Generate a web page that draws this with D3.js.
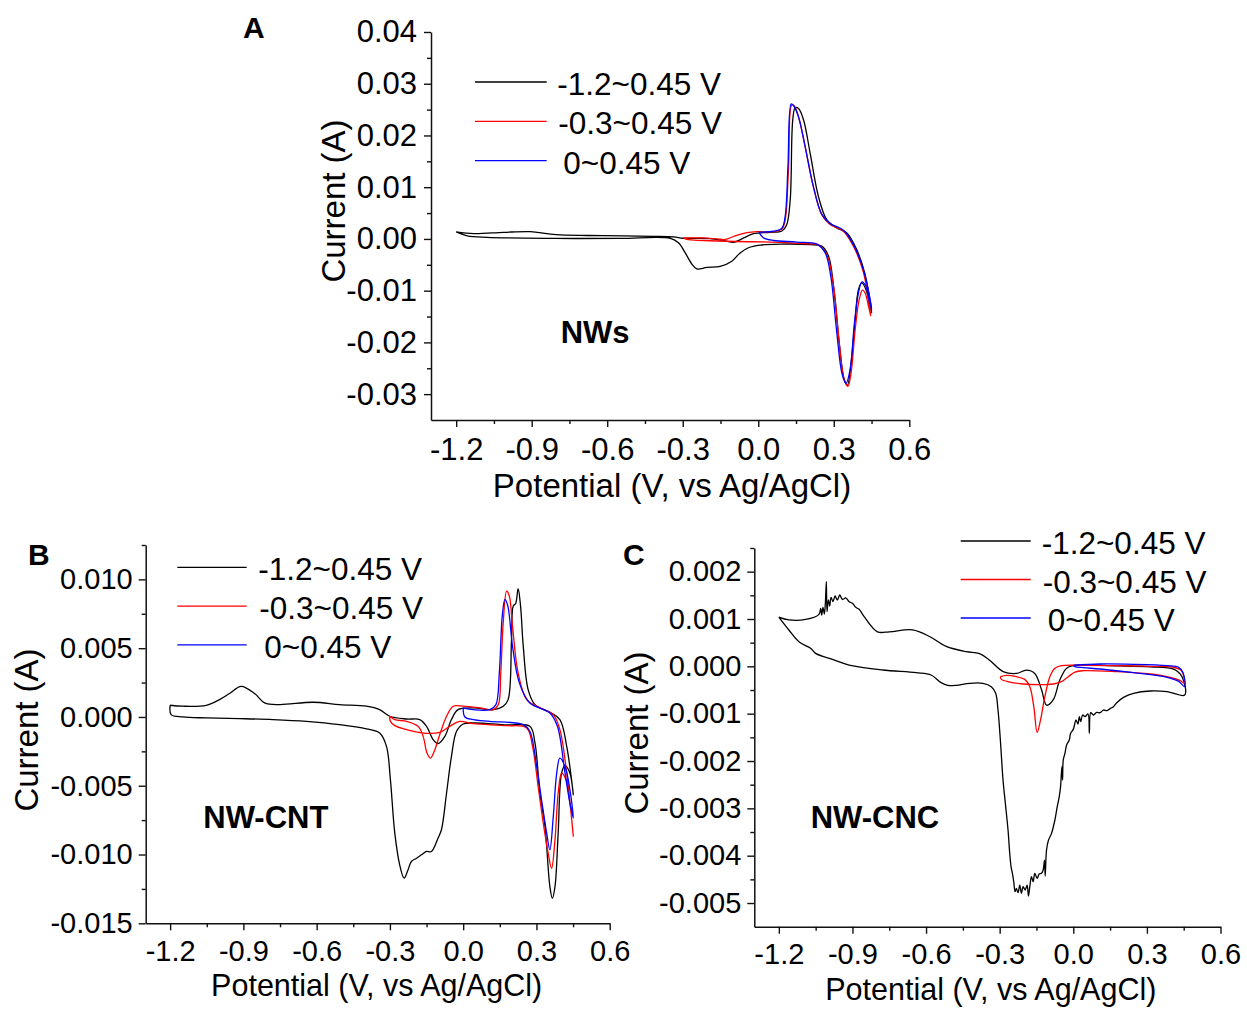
<!DOCTYPE html>
<html>
<head>
<meta charset="utf-8">
<script src="https://cdn.jsdelivr.net/npm/d3@7"></script>
<style>
  body { margin: 0; background: #fff; }
  svg { display: block; font-family: "Liberation Sans", Arial, sans-serif; }
</style>
</head>
<body>
<svg id="chart" width="1247" height="1009"></svg>
<script>
// tick values and legend text
var xTicks = [-1.2, -0.9, -0.6, -0.3, 0, 0.3, 0.6];
var yTicksA = [-0.03, -0.02, -0.01, 0, 0.01, 0.02, 0.03, 0.04];
var yTicksB = [-0.015, -0.01, -0.005, 0, 0.005, 0.01];
var yTicksC = [-0.005, -0.004, -0.003, -0.002, -0.001, 0, 0.001, 0.002];
var seriesLabels = ["-1.2~0.45 V", "-0.3~0.45 V", "0~0.45 V"];
var seriesColors = ["#000000", "#ff0000", "#0000ff"];

// cyclic voltammograms, [potential (V), current (A)]
// panel A, NWs
var nwsFull = [[-1.200,0.00135],[-1.130,0.00103],[-1.011,0.00128],[-0.905,0.00141],[-0.839,0.00103],[-0.786,0.00077],[-0.614,0.00064],[-0.416,0.00051],[-0.336,0.00039],[-0.297,0.00013],[-0.191,0.00006],[-0.144,-0.00026],[-0.098,-0.00064],[-0.058,0.00019],[-0.019,0.00103],[0.047,0.00128],[0.094,0.00154],[0.113,0.00276],[0.127,0.00758],[0.137,0.0230],[0.147,0.0254],[0.160,0.0252],[0.180,0.0230],[0.206,0.0166],[0.239,0.00822],[0.272,0.00373],[0.312,0.00212],[0.352,0.00116],[0.391,-0.00206],[0.424,-0.0068],[0.451,-0.0143],[0.444,-0.0130],[0.428,-0.0098],[0.411,-0.0085],[0.398,-0.0098],[0.385,-0.0155],[0.369,-0.0239],[0.354,-0.0283],[0.341,-0.0271],[0.323,-0.0207],[0.299,-0.0091],[0.279,-0.0033],[0.252,-0.0014],[0.206,-0.0011],[0.087,-0.0010],[0.008,-0.0012],[-0.039,-0.0017],[-0.072,-0.0027],[-0.105,-0.0043],[-0.151,-0.0053],[-0.204,-0.0055],[-0.244,-0.0058],[-0.263,-0.0049],[-0.290,-0.0027],[-0.316,-0.0008],[-0.349,0.0001],[-0.548,0.0001],[-0.812,0.0001],[-1.077,0.0003],[-1.156,0.0006],[-1.200,0.00135]];
var nwsMid = [[-0.297,0.0002],[-0.217,0.0002],[-0.164,0.0000],[-0.131,-0.0001],[-0.092,0.0006],[-0.045,0.0012],[-0.006,0.0014],[0.061,0.0014],[0.094,0.0019],[0.107,0.0037],[0.120,0.0134],[0.133,0.0259],[0.143,0.0257],[0.160,0.0236],[0.186,0.0179],[0.219,0.0101],[0.252,0.0047],[0.285,0.0028],[0.338,0.0015],[0.378,-0.0014],[0.418,-0.0065],[0.447,-0.0149],[0.438,-0.0130],[0.424,-0.0104],[0.414,-0.0099],[0.401,-0.0117],[0.385,-0.0175],[0.369,-0.0258],[0.356,-0.0285],[0.341,-0.0271],[0.323,-0.0207],[0.299,-0.0091],[0.272,-0.0030],[0.239,-0.0012],[0.180,-0.0009],[0.047,-0.0006],[-0.085,-0.0005],[-0.217,-0.0003],[-0.283,-0.0001],[-0.297,0.0002]];
var nwsShort = [[0.002,0.0013],[0.061,0.0015],[0.094,0.0021],[0.107,0.0044],[0.118,0.0140],[0.131,0.0261],[0.140,0.0258],[0.160,0.0236],[0.186,0.0179],[0.219,0.0101],[0.252,0.0048],[0.285,0.0030],[0.338,0.0017],[0.378,-0.0011],[0.418,-0.0060],[0.451,-0.0136],[0.441,-0.0120],[0.427,-0.0091],[0.412,-0.0083],[0.398,-0.0104],[0.381,-0.0168],[0.365,-0.0252],[0.349,-0.0279],[0.333,-0.0261],[0.312,-0.0181],[0.288,-0.0072],[0.266,-0.0027],[0.233,-0.0010],[0.153,-0.0006],[0.061,-0.0003],[0.021,0.0002],[0.002,0.0013]];

// panel B, NW-CNT
var cntFull = [[-1.200,0.00085],[-1.148,0.00078],[-1.052,0.00085],[-0.998,0.00126],[-0.957,0.00170],[-0.909,0.00223],[-0.854,0.00170],[-0.813,0.00102],[-0.752,0.00090],[-0.615,0.00107],[-0.506,0.00090],[-0.396,0.00078],[-0.342,0.00053],[-0.301,0.00005],[-0.232,-0.00015],[-0.178,-0.00019],[-0.150,-0.00068],[-0.123,-0.00165],[-0.103,-0.00194],[-0.075,-0.00141],[-0.048,-0.00019],[-0.021,0.00053],[0.041,0.00066],[0.123,0.00053],[0.164,0.00078],[0.184,0.00126],[0.198,0.00563],[0.205,0.00806],[0.215,0.00825],[0.225,0.00932],[0.235,0.00806],[0.246,0.00515],[0.266,0.00199],[0.294,0.00090],[0.355,0.00034],[0.396,-0.00019],[0.424,-0.00214],[0.451,-0.00566],[0.437,-0.00408],[0.417,-0.00354],[0.403,-0.00408],[0.389,-0.00845],[0.376,-0.01233],[0.365,-0.01318],[0.355,-0.01233],[0.335,-0.00796],[0.314,-0.00553],[0.294,-0.00189],[0.273,-0.00068],[0.178,-0.00058],[0.041,-0.00044],[0.000,-0.00051],[-0.027,-0.00104],[-0.048,-0.00286],[-0.068,-0.00553],[-0.089,-0.00820],[-0.103,-0.00881],[-0.130,-0.00978],[-0.150,-0.00978],[-0.171,-0.01002],[-0.191,-0.01027],[-0.212,-0.01051],[-0.226,-0.01112],[-0.242,-0.01172],[-0.260,-0.01075],[-0.280,-0.00845],[-0.298,-0.00456],[-0.314,-0.00214],[-0.342,-0.00117],[-0.396,-0.00087],[-0.506,-0.00056],[-0.642,-0.00032],[-0.779,-0.00019],[-0.916,-0.00012],[-1.052,-0.00007],[-1.148,0.00000],[-1.196,0.00017],[-1.200,0.00085]];
var cntMid = [[-0.301,0.00005],[-0.280,-0.00019],[-0.232,-0.00032],[-0.185,-0.00068],[-0.164,-0.00141],[-0.148,-0.00262],[-0.134,-0.00299],[-0.116,-0.00238],[-0.096,-0.00129],[-0.068,0.00005],[-0.041,0.00078],[0.000,0.00078],[0.068,0.00066],[0.123,0.00053],[0.144,0.00090],[0.154,0.00320],[0.164,0.00684],[0.178,0.00915],[0.189,0.00879],[0.202,0.00660],[0.225,0.00320],[0.260,0.00126],[0.314,0.00066],[0.369,0.00017],[0.396,-0.00092],[0.424,-0.00408],[0.451,-0.00869],[0.437,-0.00626],[0.421,-0.00456],[0.403,-0.00408],[0.389,-0.00553],[0.376,-0.00893],[0.362,-0.01100],[0.348,-0.00990],[0.328,-0.00772],[0.307,-0.00505],[0.284,-0.00214],[0.260,-0.00080],[0.178,-0.00063],[0.041,-0.00049],[-0.014,-0.00032],[-0.055,-0.00068],[-0.096,-0.00112],[-0.164,-0.00117],[-0.232,-0.00092],[-0.280,-0.00063],[-0.298,-0.00032],[-0.301,0.00005]];
var cntShort = [[0.000,0.00066],[0.041,0.00053],[0.109,0.00053],[0.134,0.00090],[0.148,0.00320],[0.160,0.00733],[0.171,0.00854],[0.183,0.00806],[0.202,0.00515],[0.230,0.00248],[0.273,0.00102],[0.355,0.00029],[0.386,-0.00068],[0.417,-0.00408],[0.437,-0.00626],[0.451,-0.00735],[0.437,-0.00529],[0.417,-0.00359],[0.396,-0.00299],[0.383,-0.00408],[0.369,-0.00723],[0.355,-0.00966],[0.342,-0.00845],[0.321,-0.00602],[0.301,-0.00359],[0.273,-0.00104],[0.246,-0.00056],[0.109,-0.00032],[0.041,-0.00019],[0.007,0.00000],[0.000,0.00066]];

// panel C, NW-CNC
var cncFull = [[-1.200,0.00104],[-1.159,0.00098],[-1.091,0.00099],[-1.0364,0.001099],[-1.0295,0.001225],[-1.0254,0.001085],[-1.0200,0.001246],[-1.0145,0.001106],[-1.0104,0.001331],[-1.0064,0.001789],[-1.0036,0.001155],[-0.9982,0.001401],[-0.9927,0.001275],[-0.9873,0.001458],[-0.9791,0.001366],[-0.9709,0.001486],[-0.9614,0.001401],[-0.9518,0.001507],[-0.9409,0.001415],[-0.9273,0.001444],[-0.9136,0.001366],[-0.9000,0.001331],[-0.8864,0.001246],[-0.8727,0.001204],[-0.8523,0.001049],[-0.798,0.00073],[-0.750,0.00073],[-0.655,0.00077],[-0.586,0.00063],[-0.518,0.00042],[-0.436,0.00031],[-0.382,0.00027],[-0.341,0.00013],[-0.286,-0.00011],[-0.232,-0.00015],[-0.191,-0.00008],[-0.157,-0.00015],[-0.129,-0.00050],[-0.109,-0.00082],[-0.082,-0.00071],[-0.055,-0.00029],[-0.027,-0.00004],[0.007,0.00002],[0.177,0.00001],[0.314,-0.00001],[0.409,-0.00006],[0.443,-0.00022],[0.4542,-0.000606],[0.3819,-0.000535],[0.3137,-0.000521],[0.2455,-0.000570],[0.2046,-0.000655],[0.1773,-0.000768],[0.1637,-0.000852],[0.1501,-0.000894],[0.1364,-0.000937],[0.1228,-0.000923],[0.1092,-0.000979],[0.0955,-0.000972],[0.0819,-0.001028],[0.0710,-0.000979],[0.0655,-0.001415],[0.0601,-0.001007],[0.0478,-0.001063],[0.0382,-0.001028],[0.0301,-0.001169],[0.0246,-0.001063],[0.0191,-0.001218],[0.0110,-0.001134],[0.0001,-0.001331],[-0.0109,-0.001415],[-0.0163,-0.001556],[-0.0272,-0.001662],[-0.0340,-0.001838],[-0.0409,-0.001979],[-0.0436,-0.002401],[-0.0463,-0.002120],[-0.0518,-0.002542],[-0.0572,-0.002754],[-0.0654,-0.002965],[-0.0749,-0.003246],[-0.0886,-0.003528],[-0.1009,-0.003669],[-0.1090,-0.003880],[-0.1145,-0.004430],[-0.1172,-0.004092],[-0.1227,-0.004303],[-0.1295,-0.004373],[-0.1390,-0.004387],[-0.1472,-0.004479],[-0.1568,-0.004373],[-0.1636,-0.004549],[-0.1704,-0.004444],[-0.1772,-0.004655],[-0.1827,-0.004852],[-0.1881,-0.004620],[-0.1963,-0.004725],[-0.2045,-0.004655],[-0.2113,-0.004796],[-0.2181,-0.004620],[-0.2250,-0.004782],[-0.2318,-0.004690],[-0.2372,-0.004761],[-0.2427,-0.004549],[-0.2481,-0.004373],[-0.2536,-0.004232],[-0.2590,-0.003951],[-0.2659,-0.003458],[-0.2754,-0.002965],[-0.2863,-0.002401],[-0.2972,-0.001556],[-0.3068,-0.000923],[-0.3163,-0.000570],[-0.3341,-0.000430],[-0.3681,-0.000359],[-0.4227,-0.000359],[-0.4772,-0.000401],[-0.5113,-0.000401],[-0.5386,-0.000345],[-0.5795,-0.000183],[-0.6409,-0.000134],[-0.7773,-0.000077],[-0.9136,0.000028],[-0.9818,0.000148],[-1.0500,0.000275],[-1.0704,0.000380],[-1.1182,0.000521],[-1.1591,0.000768],[-1.200,0.00104]];
var cncMid = [[-0.2972,-0.000218],[-0.2727,-0.000190],[-0.2318,-0.000218],[-0.1977,-0.000275],[-0.1772,-0.000430],[-0.1609,-0.000852],[-0.1472,-0.001394],[-0.1336,-0.001134],[-0.1159,-0.000641],[-0.0954,-0.000218],[-0.0749,-0.000042],[-0.0477,0.000014],[0.0409,0.000021],[0.1773,0.000014],[0.3137,0.000000],[0.4092,-0.000021],[0.4406,-0.000092],[0.4528,-0.000359],[0.4364,-0.000303],[0.3819,-0.000218],[0.3137,-0.000162],[0.1773,-0.000113],[0.0409,-0.000092],[0.0069,-0.000120],[-0.0204,-0.000218],[-0.0477,-0.000324],[-0.0818,-0.000373],[-0.1363,-0.000387],[-0.2045,-0.000373],[-0.2590,-0.000331],[-0.2931,-0.000275],[-0.2972,-0.000218]];
var cncShort = [[0.0001,0.000021],[0.1092,0.000049],[0.2455,0.000042],[0.3819,0.000014],[0.4296,-0.000021],[0.4474,-0.000134],[0.4542,-0.000430],[0.4296,-0.000317],[0.3819,-0.000232],[0.2455,-0.000134],[0.1092,-0.000056],[0.0409,-0.000028],[0.0069,-0.000007],[0.0001,0.000021]];

var svg = d3.select("#chart");

var panels = [
  { letter: "A", tag: "NWs", series: [nwsFull, nwsMid, nwsShort],
    xr: [431, 909.3], yd: [-0.035, 0.04], yr: [420, 32], yTicks: yTicksA, yStep: 0.01, yDigits: 2,
    tickFont: 31, titleFont: 33, yPad: 7, xPad: 11,
    xTitle: [672, 497], yTitle: [345, 201], letterPos: [243, 38], tagPos: [560.7, 343],
    leg: { x1: 475, x2: 546.7, y: 82, dy: 39.3, tx: 557.3 } },
  { letter: "B", tag: "NW-CNT", series: [cntFull, cntMid, cntShort],
    xr: [145.7, 609.7], yd: [-0.015, 0.0125], yr: [923.3, 545], yTicks: yTicksB, yStep: 0.005, yDigits: 3,
    tickFont: 29, titleFont: 30.5, yPad: 6, xPad: 10,
    xTitle: [376.7, 995.5], yTitle: [38, 730], letterPos: [28, 565], tagPos: [203.3, 828],
    leg: { x1: 177.3, x2: 246.7, y: 567.3, dy: 38.8, tx: 258.3 } },
  { letter: "C", tag: "NW-CNC", series: [cncFull, cncMid, cncShort],
    xr: [754.3, 1220.5], yd: [-0.0055, 0.0025], yr: [926.7, 548], yTicks: yTicksC, yStep: 0.001, yDigits: 3,
    tickFont: 29, titleFont: 30.5, yPad: 6, xPad: 10,
    xTitle: [990.8, 1000], yTitle: [648, 733], letterPos: [623, 565], tagPos: [810.7, 828],
    leg: { x1: 960.7, x2: 1030.7, y: 541, dy: 38.5, tx: 1041.7 } }
];

var legendNudge = [0, 1, 6];

function styleAxis(sel, font) {
  sel.select(".domain").attr("stroke", "#111").attr("stroke-width", 1.5);
  sel.selectAll(".tick line").attr("stroke", "#111").attr("stroke-width", 1.4);
  sel.selectAll("text").attr("font-size", font).attr("font-family", "Liberation Sans, Arial, sans-serif").attr("fill", "#000");
}

panels.forEach(function (p) {
  var x = d3.scaleLinear().domain([-1.3, 0.6]).range(p.xr);
  var y = d3.scaleLinear().domain(p.yd).range(p.yr);
  var g = svg.append("g");

  var xMinor = xTicks.slice(0, -1).map(function (v) { return v + 0.15; });
  var yMinor = p.yTicks.map(function (v) { return v + p.yStep / 2; })
    .filter(function (v) { return v <= p.yd[1] + 1e-9; });

  // minor ticks
  g.append("g").attr("transform", "translate(0," + p.yr[0] + ")")
    .call(d3.axisBottom(x).tickValues(xMinor).tickSize(4).tickFormat(""))
    .call(function (s) { s.select(".domain").remove(); styleAxis(s, p.tickFont); });
  g.append("g").attr("transform", "translate(" + p.xr[0] + ",0)")
    .call(d3.axisLeft(y).tickValues(yMinor).tickSize(4).tickFormat(""))
    .call(function (s) { s.select(".domain").remove(); styleAxis(s, p.tickFont); });

  // major axes
  g.append("g").attr("transform", "translate(0," + p.yr[0] + ")")
    .call(d3.axisBottom(x).tickValues(xTicks).tickSize(7).tickSizeOuter(0).tickPadding(p.xPad)
      .tickFormat(function (d) { return d.toFixed(1); }))
    .call(function (s) { styleAxis(s, p.tickFont); });
  g.append("g").attr("transform", "translate(" + p.xr[0] + ",0)")
    .call(d3.axisLeft(y).tickValues(p.yTicks).tickSize(7).tickSizeOuter(0).tickPadding(p.yPad)
      .tickFormat(function (d) { return d.toFixed(p.yDigits); }))
    .call(function (s) { styleAxis(s, p.tickFont); });

  // curves
  var line = d3.line()
    .x(function (d) { return x(d[0]); })
    .y(function (d) { return y(d[1]); })
    .curve(d3.curveCatmullRom.alpha(0.5));
  p.series.forEach(function (s, i) {
    g.append("path").datum(s).attr("d", line)
      .attr("fill", "none").attr("stroke", seriesColors[i]).attr("stroke-width", 1.3)
      .attr("stroke-linejoin", "round");
  });

  // legend
  seriesLabels.forEach(function (lab, i) {
    var ly = p.leg.y + i * p.leg.dy;
    g.append("line").attr("x1", p.leg.x1).attr("x2", p.leg.x2).attr("y1", ly).attr("y2", ly)
      .attr("stroke", seriesColors[i]).attr("stroke-width", 1.3);
    g.append("text").attr("x", p.leg.tx + legendNudge[i]).attr("y", ly + 13)
      .attr("font-size", 31.5).text(lab);
  });

  // titles and tags
  g.append("text").attr("x", p.xTitle[0]).attr("y", p.xTitle[1]).attr("text-anchor", "middle")
    .attr("font-size", p.titleFont).text("Potential (V, vs Ag/AgCl)");
  g.append("text").attr("transform", "translate(" + p.yTitle[0] + "," + p.yTitle[1] + ") rotate(-90)")
    .attr("text-anchor", "middle").attr("font-size", 33).text("Current (A)");
  g.append("text").attr("x", p.tagPos[0]).attr("y", p.tagPos[1])
    .attr("font-size", 31).attr("font-weight", "bold").text(p.tag);
  g.append("text").attr("x", p.letterPos[0]).attr("y", p.letterPos[1])
    .attr("font-size", 30).attr("font-weight", "bold").text(p.letter);
});
</script>
</body>
</html>
